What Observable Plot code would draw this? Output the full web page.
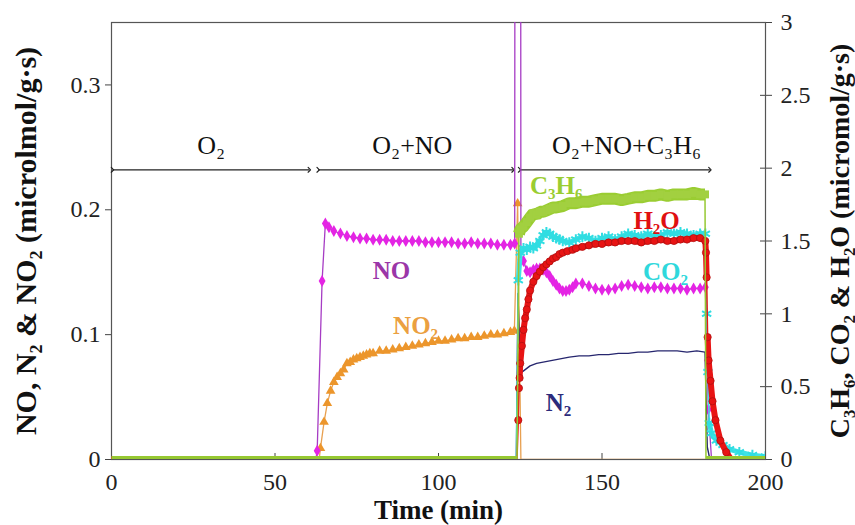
<!DOCTYPE html>
<html><head><meta charset="utf-8">
<script src="https://cdn.jsdelivr.net/npm/d3@7"></script>
<script src="https://cdn.jsdelivr.net/npm/@observablehq/plot@0.6"></script>
<style>
body{margin:0;background:#fff;}
#chart svg{font-family:"Liberation Serif","Times New Roman",serif;}
</style></head><body><div id="chart"></div>
<script>
// ---- data (time in min; left-axis series in micromol/g·s, right-axis series in micromol/g·s) ----
const NO = [[0,0],[62.5,0],[62.9,0.007],[64.4,0.143],[65.4,0.189],[66.5,0.186],[68,0.183],[70,0.181],[72,0.179],[74,0.178],[76,0.177],[78,0.177],[80,0.176],[82,0.176],[84,0.176],[86,0.175],[88,0.175],[90,0.175],[92,0.175],[94,0.175],[96,0.174],[98,0.174],[100,0.174],[102,0.174],[104,0.174],[106,0.173],[108,0.173],[110,0.174],[112,0.173],[114,0.173],[116,0.173],[118,0.172],[120,0.172],[122,0.172],[123.3,0.173],[124.3,4.0],[125.2,0.160],[126,0.159],[127,0.151],[128,0.150],[129,0.152],[130,0.153],[131,0.153],[132,0.152],[133,0.150],[134,0.147],[135,0.143],[136,0.140],[137,0.137],[138,0.135],[139,0.135],[140,0.136],[141,0.138],[142,0.141],[144,0.141],[146,0.139],[148,0.137],[150,0.136],[152,0.136],[154,0.137],[156,0.139],[158,0.140],[160,0.139],[162,0.138],[164,0.137],[166,0.138],[168,0.138],[170,0.137],[172,0.137],[174,0.137],[176,0.136],[178,0.137],[180,0.137],[181.6,0.138],[182.5,0.040],[183.5,0],[200,0]];
const NO2 = [[0,0],[63.5,0],[63.9,0.009],[65,0.030],[66,0.045],[67,0.055],[68,0.062],[69,0.066],[70,0.069],[71,0.072],[72,0.077],[73,0.078],[74,0.080],[75,0.081],[76,0.082],[77,0.083],[78,0.084],[79,0.085],[80,0.085],[82,0.087],[84,0.087],[86,0.088],[88,0.089],[90,0.090],[92,0.091],[94,0.092],[96,0.093],[98,0.094],[100,0.095],[102,0.095],[104,0.096],[106,0.097],[108,0.097],[110,0.098],[112,0.098],[114,0.099],[116,0.100],[118,0.100],[120,0.101],[122,0.102],[123.2,0.103],[124.2,0.205],[125.2,0],[200,0]];
const N2 = [[0,0],[123.8,0],[124.3,0.133],[125,0.069],[126,0.071],[127,0.073],[128,0.075],[129,0.076],[130,0.077],[132,0.078],[134,0.079],[136,0.080],[138,0.081],[140,0.082],[143,0.083],[146,0.083],[149,0.084],[152,0.084],[155,0.085],[158,0.085],[161,0.086],[164,0.086],[167,0.087],[170,0.087],[173,0.087],[176,0.086],[179,0.087],[181.5,0.086],[182.2,0.010],[183,0],[200,0]];
const C3H6 = [[0,0],[124,0],[124.6,1.55],[125,1.58],[126,1.60],[127,1.63],[128,1.66],[129,1.69],[130,1.68],[131,1.70],[132,1.70],[133,1.71],[134,1.72],[135,1.73],[136,1.73],[138,1.74],[140,1.76],[142,1.76],[144,1.77],[146,1.77],[148,1.78],[150,1.79],[152,1.79],[154,1.79],[156,1.78],[158,1.79],[160,1.80],[162,1.80],[164,1.81],[166,1.81],[168,1.82],[170,1.81],[172,1.82],[174,1.82],[176,1.82],[178,1.83],[180,1.82],[181.5,1.82],[181.8,0],[200,0]];
const CO2 = [[0,0],[123.8,0],[124.4,1.23],[125,1.42],[126,1.45],[127,1.44],[128,1.46],[129,1.45],[130,1.47],[131,1.50],[132,1.54],[133,1.56],[134,1.55],[135,1.53],[136,1.52],[137,1.51],[138,1.50],[140,1.49],[142,1.51],[144,1.53],[146,1.52],[148,1.50],[150,1.52],[152,1.53],[154,1.51],[156,1.53],[158,1.55],[160,1.54],[162,1.53],[164,1.55],[166,1.53],[168,1.54],[170,1.56],[172,1.55],[174,1.56],[176,1.55],[178,1.54],[180,1.55],[181.6,1.55],[182.0,1.00],[182.4,0.60],[182.8,0.25],[183.5,0.18],[185,0.13],[187,0.10],[189,0.07],[192,0.05],[196,0.03],[200,0.02]];
const H2O = [[0,0],[124,0],[124.4,0.27],[124.6,0.49],[124.8,0.56],[125,0.66],[125.5,0.78],[126,0.89],[126.5,0.97],[127,1.03],[127.5,1.10],[128,1.16],[129,1.22],[130,1.26],[131,1.29],[132,1.32],[133,1.34],[134,1.36],[135,1.38],[136,1.39],[137,1.41],[138,1.42],[139.4,1.43],[141,1.44],[142,1.45],[144,1.46],[146,1.47],[148,1.48],[150,1.48],[152,1.49],[154,1.49],[156,1.50],[158,1.50],[160,1.50],[162,1.49],[164,1.50],[166,1.50],[168,1.51],[170,1.50],[172,1.50],[174,1.51],[176,1.51],[178,1.52],[180,1.52],[181.6,1.50],[181.8,1.42],[182.0,1.25],[182.3,0.84],[182.6,0.68],[183.2,0.54],[183.8,0.40],[184.7,0.27],[186.2,0.13],[188,0.05],[189.5,0],[200,0]];

const xTicks = [0, 50, 100, 150, 200];
const leftTicks = [0, 0.1, 0.2, 0.3];
const rightTicks = [0, 0.5, 1, 1.5, 2, 2.5, 3];
const leftMax = 0.35, rightMax = 3;
const xTitle = "Time (min)";
const leftTitle = "NO, N₂ & NO₂ (microlmol/g·s)";
const rightTitle = "C₃H₆, CO₂ & H₂O (micromol/g·s)";

// feed stages (time ranges) and their names
const stageNames = ["O₂", "O₂+NO", "O₂+NO+C₃H₆"];
const stageStart = [0.3, 63.2, 124.8];
const stageEnd = [60.5, 122.8, 183];
const stageLabelT = [30.5, 92, 157.5];
const stageArrowV = 0.232, stageLabelV = 0.251;

// in-plot series names
const seriesNames = ["NO", "NO₂", "C₃H₆", "H₂O", "CO₂", "N₂"];
const seriesLabelT = [85.6, 93, 136, 166.7, 169.4, 136.7];
const seriesLabelV = [0.151, 0.107, 0.219, 0.191, 0.150, 0.045];
// ---------------------------------------------------------------

const K = leftMax / rightMax;
const L = arr => arr.map(([t, v]) => ({t, v}));
const R = arr => arr.map(([t, v]) => ({t, v: v * K}));
const dNO = L(NO), dNO2 = L(NO2), dN2 = L(N2);
const dC3 = R(C3H6), dCO2 = R(CO2), dH2O = R(H2O);
const active = d => d.v > 0;
// dense-marker stretches (drawn as a thick band), split at the fast jumps
const band = data => {
  let g = 0; const out = [];
  data.forEach((d, i, a) => {
    const prev = a[i - 1];
    if (prev && Math.abs(d.v - prev.v) > 0.03 && (d.t - prev.t) < 1) g++;
    out.push({...d, g});
  });
  return out;
};

const stages = stageNames.map((s, i) => ({s, x1: stageStart[i], x2: stageEnd[i], lt: stageLabelT[i]}));
const labelColors = ["#9b36a8", "#eba040", "#9acd32", "#e01010", "#2fd8dc", "#2b2b7b"];
const slabels = seriesNames.map((s, i) => ({s, t: seriesLabelT[i], v: seriesLabelV[i], c: labelColors[i]}));

const fmt = d => String(d);

const chart = Plot.plot({
  width: 855, height: 525,
  marginLeft: 111, marginRight: 90, marginTop: 22, marginBottom: 66,
  style: {fontFamily: "Liberation Serif, Times New Roman, serif", fontSize: "24px", background: "white", color: "#222", overflow: "visible"},
  x: {domain: [0, 200]},
  y: {domain: [0, leftMax]},
  marks: [
    // axes
    Plot.axisX(xTicks, {tickSize: 6, dy: -6, tickFormat: () => "", stroke: "#444", label: null}),
    Plot.axisX(xTicks, {tickSize: 0, tickPadding: 13, tickFormat: fmt, label: null}),
    Plot.axisY(leftTicks, {anchor: "left", tickSize: 6, tickPadding: 5, tickFormat: fmt, stroke: "#444", label: null}),
    Plot.axisY(rightTicks.map(d => d * K), {anchor: "right", tickSize: 12, dx: -6, tickFormat: () => "", stroke: "#444", label: null}),
    Plot.axisY(rightTicks.map(d => d * K), {anchor: "right", tickSize: 0, tickPadding: 15, tickFormat: d => fmt(+(d / K).toFixed(2)), label: null}),
    Plot.frame({stroke: "#555", strokeWidth: 1.2}),
    // axis titles
    Plot.text([xTitle], {frameAnchor: "bottom", lineAnchor: "middle", dy: 51, fontSize: 27, fontWeight: "bold", fill: "#111"}),
    Plot.text([leftTitle], {frameAnchor: "left", textAnchor: "middle", lineAnchor: "middle", rotate: -90, dx: -85, fontSize: 30, fontWeight: "bold", fill: "#111"}),
    Plot.text([rightTitle], {frameAnchor: "right", textAnchor: "middle", lineAnchor: "middle", rotate: -90, dx: 75, fontSize: 28, fontWeight: "bold", fill: "#111"}),

    // stage arrows + names
    Plot.link(stages, {x1: "x1", x2: "x2", y1: stageArrowV, y2: stageArrowV, stroke: "#222", strokeWidth: 1.2, markerStart: "arrow", markerEnd: "arrow"}),
    Plot.text(stages, {x: "lt", y: stageLabelV, text: "s", fontSize: 26, fill: "#111"}),

    // NO2
    Plot.line(dNO2, {x: "t", y: "v", stroke: "#e8a050", strokeWidth: 1.3, clip: true}),
    Plot.dot(dNO2.filter(active), {x: "t", y: "v", symbol: "triangle", r: 3.6, fill: "#ec962c", clip: true}),
    // NO
    Plot.line(dNO, {x: "t", y: "v", stroke: "#a63cc4", strokeWidth: 1.3, clip: true}),
    Plot.dot(dNO.filter(active), {x: "t", y: "v", symbol: "diamond", r: 3.6, fill: "#e424e4", clip: true}),
    // N2
    Plot.line(dN2, {x: "t", y: "v", stroke: "#26266e", strokeWidth: 1.4, clip: true}),
    // CO2
    Plot.line(dCO2, {x: "t", y: "v", stroke: "#3ee2e6", strokeWidth: 1.5, clip: true}),
    Plot.line(band(dCO2), {x: "t", y: "v", z: "g", stroke: "#3ee2e6", strokeWidth: 5, strokeLinecap: "butt", clip: true}),
    Plot.dot(dCO2.filter(active), {x: "t", y: "v", symbol: "asterisk", r: 5, stroke: "#30dde2", strokeWidth: 2, clip: true}),
    // H2O
    Plot.line(dH2O, {x: "t", y: "v", stroke: "#e81414", strokeWidth: 1.5, clip: true}),
    Plot.line(band(dH2O).filter(d => d.t < 124 || d.t > 124.7), {x: "t", y: "v", z: "g", stroke: "#e81414", strokeWidth: 6, clip: true}),
    Plot.dot(dH2O.filter(active), {x: "t", y: "v", r: 3.6, fill: "#e81414", stroke: "#b01010", strokeWidth: 0.8, clip: true}),
    // C3H6
    Plot.line(dC3, {x: "t", y: "v", stroke: "#96c832", strokeWidth: 1.5, clip: true}),
    Plot.line(band(dC3).filter(d => d.v === 0), {x: "t", y: "v", z: "g", stroke: "#96c832", strokeWidth: 7, strokeLinecap: "butt", clip: true}),
    Plot.line(band(dC3).filter(active), {x: "t", y: "v", z: "g", stroke: "#9acd32", strokeWidth: 12, strokeLinecap: "butt", strokeLinejoin: "miter", clip: true}),
    Plot.dot(dC3.filter(active), {x: "t", y: "v", symbol: "square", r: 4.5, fill: "#a2d040", clip: true}),

    // series names
    Plot.text(slabels, {x: "t", y: "v", text: "s", fill: "c", fontSize: 25, fontWeight: "bold"})
  ]
});
document.getElementById("chart").appendChild(chart);
</script>
</body></html>
